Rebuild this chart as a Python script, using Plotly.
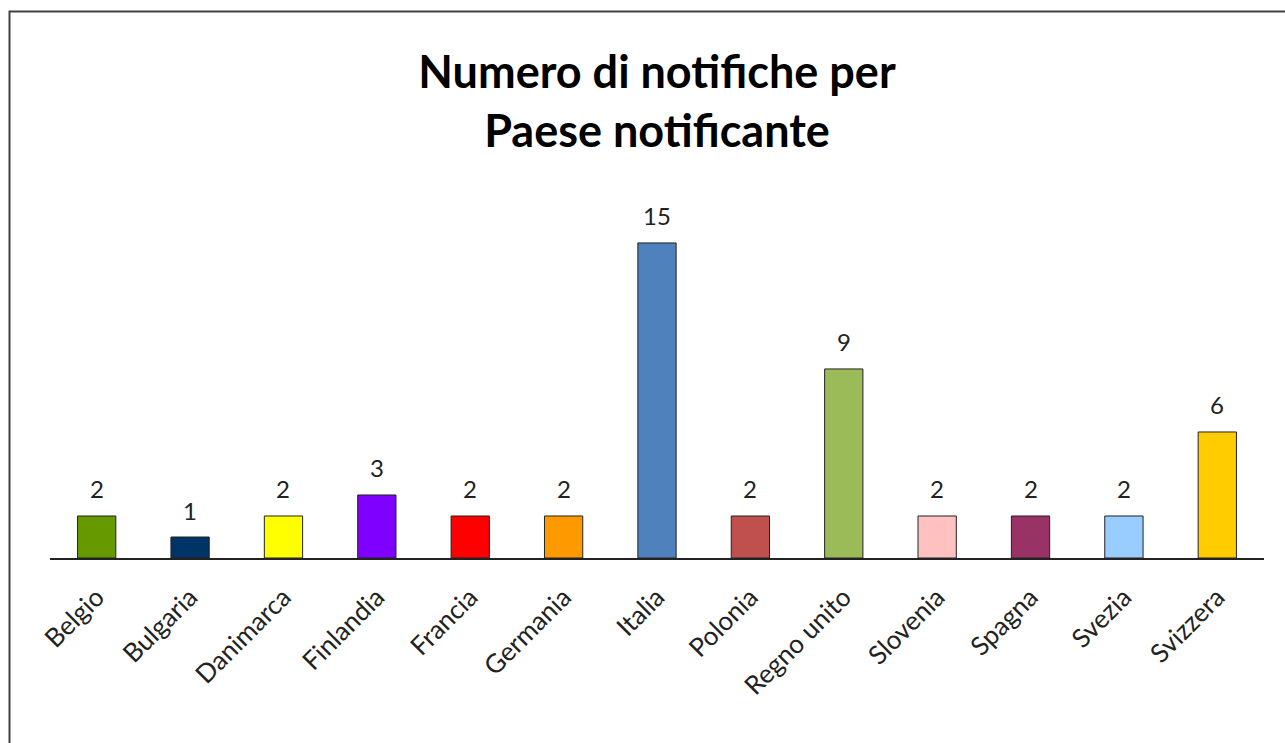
import plotly.graph_objects as go

countries = ["Belgio", "Bulgaria", "Danimarca", "Finlandia", "Francia", "Germania",
             "Italia", "Polonia", "Regno unito", "Slovenia", "Spagna", "Svezia", "Svizzera"]
counts = [2, 1, 2, 3, 2, 2, 15, 2, 9, 2, 2, 2, 6]
colors = ["#669900", "#003366", "#FFFF00", "#8000FF", "#FF0000", "#FF9900",
          "#4F81BD", "#C0504D", "#9BBB59", "#FFC0C0", "#993366", "#99CCFF", "#FFCC00"]

W, H = 1285, 743
ml, mr, mt, mb = 50, 21, 190, 185
FONT = "Lato, Open Sans, sans-serif"

fig = go.Figure(go.Bar(
    x=countries, y=counts,
    marker=dict(color=colors, line=dict(color="#222222", width=1)),
    width=0.41,
))

for c, v in zip(countries, counts):
    fig.add_annotation(x=c, y=v, xref="x", yref="y", text=str(v), showarrow=False,
                       yshift=27, yanchor="middle",
                       font=dict(family=FONT, size=24, color="#222222"))

pw = W - ml - mr
ph = H - mt - mb
fig.add_shape(type="rect", xref="paper", yref="paper",
              x0=(9.5 - ml) / pw, x1=(W + 5 - ml) / pw,
              y0=-(H + 5 - (H - mb)) / ph, y1=1 + (mt - 11.5) / ph,
              line=dict(color="#404040", width=2), layer="below")

fig.update_layout(
    width=W, height=H,
    margin=dict(l=ml, r=mr, t=mt, b=mb),
    paper_bgcolor="white", plot_bgcolor="white",
    title=dict(text="<b>Numero di notifiche per<br>Paese notificante</b>",
               x=0.5, xanchor="center", xref="paper", y=1 - 88 / H, yanchor="middle",
               font=dict(family=FONT, size=45, color="black")),
    xaxis=dict(tickangle=-45, showline=True, linecolor="#222222", linewidth=1.5,
               ticks="outside", ticklen=12, tickcolor="rgba(0,0,0,0)",
               tickfont=dict(family=FONT, size=26, color="#222222"),
               showgrid=False),
    yaxis=dict(visible=False, range=[0, 17.52], showgrid=False),
    showlegend=False,
)

fig.write_html("out.html")
